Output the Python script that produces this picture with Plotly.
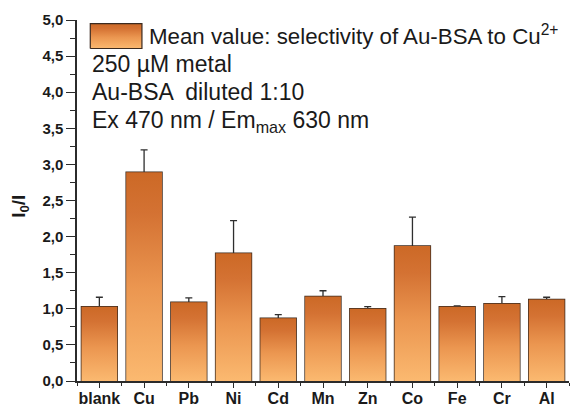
import plotly.graph_objects as go

# Selectivity of Au-BSA nanoclusters towards different metal ions (I0/I)
categories = ["blank", "Cu", "Pb", "Ni", "Cd", "Mn", "Zn", "Co", "Fe", "Cr", "Al"]
mean_values = [1.03, 2.89, 1.09, 1.77, 0.87, 1.17, 1.00, 1.87, 1.03, 1.07, 1.13]
std_values = [0.13, 0.31, 0.06, 0.45, 0.05, 0.08, 0.03, 0.40, 0.01, 0.10, 0.03]
y_ticks = [0.0, 0.5, 1.0, 1.5, 2.0, 2.5, 3.0, 3.5, 4.0, 4.5, 5.0]

BAR_WIDTH = 0.8
FONT = "Arial, Liberation Sans, sans-serif"
OUTLINE = "#3b2a1f"
AXIS = "#2b2b2b"
# vertical orange gradient: light at the base, dark at the top of each bar
GRADIENT = [[0.0, "#fbb970"], [0.45, "#eb9650"], [0.8, "#d47233"], [1.0, "#cc6926"]]

x_pos = list(range(len(categories)))
fig = go.Figure()

# gradient-filled body of every bar, built from its mean value
for i, v in zip(x_pos, mean_values):
    x0, x1 = i - BAR_WIDTH / 2, i + BAR_WIDTH / 2
    fig.add_trace(go.Scatter(
        x=[x0, x0, x1, x1, x0], y=[0, v, v, 0, 0],
        mode="lines", line=dict(width=0),
        fill="toself",
        fillgradient=dict(type="vertical", colorscale=GRADIENT),
        hoverinfo="skip", showlegend=False,
    ))

# outlines and error bars
fig.add_trace(go.Bar(
    x=x_pos, y=mean_values, width=BAR_WIDTH,
    marker=dict(color="rgba(0,0,0,0)", line=dict(color=OUTLINE, width=1.5)),
    error_y=dict(type="data", array=std_values, visible=True,
                 color="#2e2e2e", thickness=1.3, width=3.5),
    showlegend=False,
))

# legend swatch on an overlay axis spanning the plot area
sx0, sx1, sy0, sy1 = 0.027, 0.132, 0.921, 0.990
fig.add_trace(go.Scatter(
    x=[sx0, sx0, sx1, sx1, sx0], y=[sy0, sy1, sy1, sy0, sy0],
    xaxis="x2", yaxis="y2",
    mode="lines", line=dict(color=OUTLINE, width=1.2),
    fill="toself",
    fillgradient=dict(type="vertical", colorscale=GRADIENT),
    hoverinfo="skip", showlegend=False,
))

legend_lines = [
    (0.143, 0.958, 22.3, "Mean value: selectivity of Au-BSA to Cu<sup>2+</sup>"),
    (0.027, 0.878, 23, "250 µM metal"),
    (0.027, 0.800, 23, "Au-BSA  diluted 1:10"),
    (0.027, 0.718, 23, "Ex 470 nm / Em<sub>max</sub> 630 nm"),
]
annotations = [
    dict(x=x, y=y, xref="paper", yref="paper", text=t, showarrow=False,
         xanchor="left", yanchor="middle",
         font=dict(family=FONT, size=s, color="#1a1a1a"))
    for x, y, s, t in legend_lines
]
annotations.append(dict(
    x=-0.116, y=0.485, xref="paper", yref="paper",
    text="<b>I<sub>0</sub>/I</b>", textangle=-90, showarrow=False,
    xanchor="center", yanchor="middle",
    font=dict(family=FONT, size=19, color="#1a1a1a"),
))

fig.update_layout(
    width=571, height=408,
    margin=dict(l=77, r=2, t=20, b=27),
    paper_bgcolor="white", plot_bgcolor="white",
    separators=",.",
    bargap=0.2,
    font=dict(family=FONT, color="#1a1a1a"),
    xaxis=dict(
        range=[-0.5, 10.5], tickmode="array", tickvals=x_pos, ticktext=categories,
        automargin=False,
        showgrid=False, zeroline=False,
        showline=True, linecolor=AXIS, linewidth=1.5,
        ticks="outside", ticklen=5, tickwidth=1.3, tickcolor=AXIS,
        ticklabelstandoff=-3,
        minor=dict(tickmode="array", tickvals=[i + 0.5 for i in x_pos[:-1]] + [-0.5, 10.5],
                   ticks="outside", ticklen=3, tickwidth=1.3, tickcolor=AXIS),
        tickfont=dict(family=FONT, size=16, color="#1a1a1a", weight="bold"),
    ),
    yaxis=dict(
        range=[0, 5.0], tickmode="array", tickvals=y_ticks,
        tickformat=".1f", automargin=False,
        showgrid=False, zeroline=False,
        showline=True, linecolor=AXIS, linewidth=1.5,
        ticks="outside", ticklen=9, tickwidth=1.3, tickcolor=AXIS,
        minor=dict(dtick=0.25, tick0=0, ticks="outside", ticklen=5,
                   tickwidth=1.3, tickcolor=AXIS),
        tickfont=dict(family=FONT, size=15, color="#1a1a1a", weight="bold"),
    ),
    xaxis2=dict(overlaying="x", range=[0, 1], visible=False),
    yaxis2=dict(overlaying="y", range=[0, 1], visible=False),
    annotations=annotations,
)

fig.write_html("out.html")
